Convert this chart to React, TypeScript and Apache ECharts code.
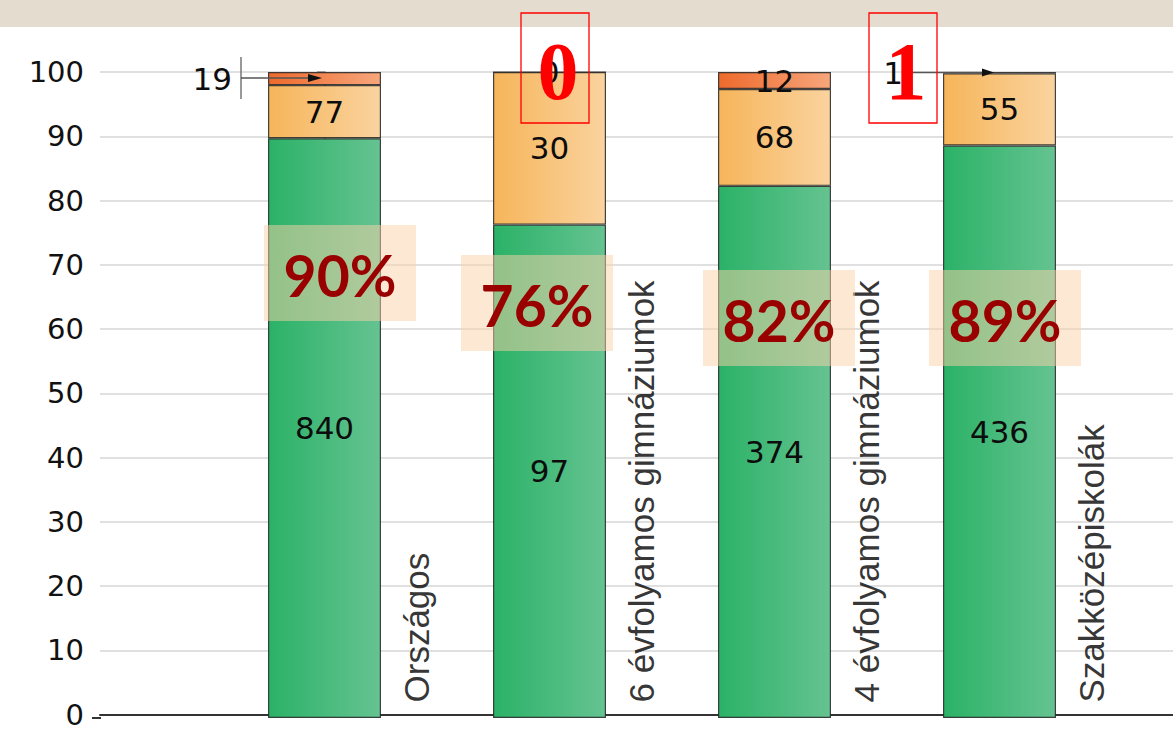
import React, { useEffect, useRef } from 'react';
import * as echarts from 'echarts';

const categories = ['Országos', '6 évfolyamos gimnáziumok', '4 évfolyamos gimnáziumok', 'Szakközépiskolák'];
const greenCounts = [840, 97, 374, 436];
const orangeCounts = [77, 30, 68, 55];
const redCounts = [19, 0, 12, 1];
const yMin = 0;
const yMax = 100;
const yInterval = 10;

const totals = categories.map((_, i) => greenCounts[i] + orangeCounts[i] + redCounts[i]);
const pct = (v: number, i: number) => (v / totals[i]) * 100;

const grad = (a: string, b: string) =>
  new echarts.graphic.LinearGradient(0, 0, 1, 0, [
    { offset: 0, color: a },
    { offset: 1, color: b },
  ]);

const numFont = 'DejaVu Sans';
const barBorder = { borderColor: 'rgba(35,35,35,0.85)', borderWidth: 1.2 };

// overlay annotation placement (pixels)
const pctBoxes = [
  { x: 264, y: 225 },
  { x: 461, y: 255 },
  { x: 703, y: 270 },
  { x: 929, y: 270 },
];
const redBoxes = [
  { idx: 1, x: 521, y: 13 },
  { idx: 3, x: 869, y: 13 },
];

export default function App() {
  const ref = useRef<HTMLDivElement>(null);
  useEffect(() => {
    if (!ref.current) return;
    const chart = echarts.init(ref.current, null, { renderer: 'svg' });

    const valueLabel = (arr: number[]) => ({
      show: true,
      position: 'inside',
      color: '#0d0d0d',
      fontFamily: numFont,
      fontSize: 31,
      formatter: (p: any) => String(arr[p.dataIndex]),
    });

    const graphic: any[] = [
      { type: 'rect', shape: { x: 0, y: 0, width: 1173, height: 27 }, style: { fill: '#E4DDCF' }, z: 100 },
      // bottom axis stub left of the y axis
      { type: 'line', shape: { x1: 92, y1: 718, x2: 101, y2: 718 }, style: { stroke: '#333', lineWidth: 2 }, z: 100 },
      // leader for Országos red label
      { type: 'line', shape: { x1: 241, y1: 57, x2: 241, y2: 99 }, style: { stroke: '#777', lineWidth: 1.5 }, z: 100 },
      { type: 'line', shape: { x1: 241, y1: 78, x2: 312, y2: 78 }, style: { stroke: '#555', lineWidth: 1.5 }, z: 100 },
      { type: 'polygon', shape: { points: [[308, 74], [322, 78], [308, 82]] }, style: { fill: '#111' }, z: 100 },
      // leader for Szakközépiskolák red label
      { type: 'line', shape: { x1: 905, y1: 72.5, x2: 986, y2: 72.5 }, style: { stroke: '#555', lineWidth: 1.5 }, z: 100 },
      { type: 'polygon', shape: { points: [[982, 68.5], [994, 72.5], [982, 76.5]] }, style: { fill: '#111' }, z: 100 },
    ];
    pctBoxes.forEach((b, i) => {
      graphic.push({
        type: 'rect',
        shape: { x: b.x, y: b.y, width: 152, height: 96 },
        style: { fill: 'rgba(251,210,170,0.5)' },
        z: 110,
      });
      graphic.push({
        type: 'text',
        x: b.x + 76,
        y: b.y + 50,
        style: {
          text: `${Math.round(pct(greenCounts[i], i))}%`,
          align: 'center',
          verticalAlign: 'middle',
          font: 'bold 57px Lato',
          fill: '#990000',
        },
        z: 111,
      });
    });
    redBoxes.forEach((b) => {
      graphic.push({
        type: 'rect',
        shape: { x: b.x, y: b.y, width: 68, height: 110 },
        style: { fill: 'rgba(255,255,255,0)', stroke: '#FF0000', lineWidth: 1.3 },
        z: 120,
      });
      graphic.push({
        type: 'text',
        x: b.x + 37,
        y: b.y + 58,
        style: {
          text: String(redCounts[b.idx]),
          align: 'center',
          verticalAlign: 'middle',
          font: 'bold 82px "Liberation Serif"',
          fill: '#FF0000',
          shadowBlur: 6,
          shadowColor: 'rgba(0,0,0,0.45)',
          shadowOffsetX: 2,
          shadowOffsetY: 3,
        },
        z: 121,
      });
    });

    const barCommon = { type: 'bar', stack: 'all', barWidth: 113, xAxisIndex: 1, yAxisIndex: 1, z: 3 };

    chart.setOption({
      animation: false,
      backgroundColor: '#ffffff',
      grid: [
        { left: 100, right: 0, top: 72, bottom: 11, containLabel: false },
        { left: 212, width: 900, top: 72, bottom: 11, containLabel: false },
      ],
      xAxis: [
        {
          type: 'value',
          gridIndex: 0,
          min: -1,
          max: 3.769,
          axisLine: { show: true, lineStyle: { color: '#333', width: 2 } },
          axisTick: { show: false },
          axisLabel: { show: false },
          splitLine: { show: false },
        },
        {
          type: 'category',
          gridIndex: 1,
          data: categories,
          axisLine: { show: false },
          axisTick: { show: false },
          axisLabel: { show: false },
          splitLine: { show: false },
        },
      ],
      yAxis: [
        {
          type: 'value',
          gridIndex: 0,
          min: yMin,
          max: yMax,
          interval: yInterval,
          axisLine: { show: true, lineStyle: { color: '#888', width: 1.5 } },
          axisTick: { show: true, length: 8, lineStyle: { color: '#888', width: 1.5 } },
          axisLabel: { color: '#111', fontFamily: numFont, fontSize: 29, margin: 16 },
          splitLine: { show: true, lineStyle: { color: '#D6D6D6', width: 1.5 } },
        },
        {
          type: 'value',
          gridIndex: 1,
          min: yMin,
          max: yMax,
          interval: yInterval,
          show: false,
          splitLine: { show: false },
        },
      ],
      series: [
        {
          ...barCommon,
          name: 'green',
          data: categories.map((_, i) => pct(greenCounts[i], i)),
          itemStyle: { color: grad('#2BB267', '#65C391'), ...barBorder },
          label: valueLabel(greenCounts),
        },
        {
          ...barCommon,
          name: 'orange',
          data: categories.map((_, i) => pct(orangeCounts[i], i)),
          itemStyle: { color: grad('#F6B55A', '#FAD39F'), ...barBorder },
          label: valueLabel(orangeCounts),
        },
        {
          ...barCommon,
          name: 'red',
          data: categories.map((_, i) => {
            const item: any = { value: pct(redCounts[i], i) };
            if (i === 0) item.label = { position: 'left', distance: 36 };
            if (i === 3) item.label = { position: 'left', distance: 40 };
            return item;
          }),
          itemStyle: { color: grad('#EE6A2C', '#F7A67C'), ...barBorder },
          label: valueLabel(redCounts),
        },
        {
          name: 'categoryLabels',
          type: 'scatter',
          xAxisIndex: 0,
          yAxisIndex: 0,
          symbolSize: 0,
          silent: true,
          data: categories.map((c, i) => ({ name: c, value: [i + 0.405, 0] })),
          label: {
            show: true,
            formatter: '{b}',
            position: 'top',
            distance: 12,
            rotate: 90,
            align: 'left',
            verticalAlign: 'middle',
            fontFamily: 'Liberation Sans',
            fontSize: 35,
            color: '#000',
          },
          z: 4,
        },
      ],
      graphic,
    });
    return () => chart.dispose();
  }, []);
  return (
    <div
      ref={ref}
      style={{ position: 'fixed', left: 0, top: 0, width: 1173, height: 729, background: '#fff' }}
    />
  );
}
